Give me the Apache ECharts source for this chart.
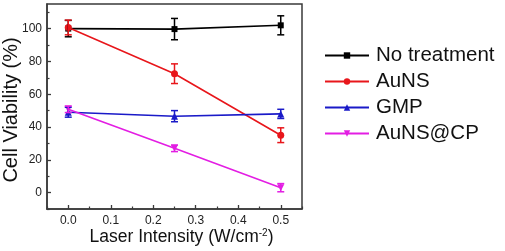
<!DOCTYPE html>
<html><head><meta charset="utf-8">
<script src="https://cdn.jsdelivr.net/npm/echarts@6/dist/echarts.min.js"></script>
<style>html,body{margin:0;padding:0;background:#fff}#c{width:505px;height:251px}</style>
</head><body><div id="c"></div>
<script>
const xValues = [0, 0.25, 0.5];
const seriesNames = ['No treatment', 'AuNS', 'GMP', 'AuNS@CP'];
const noTreatment = [100, 99.7, 102];
const noTreatmentErr = [5, 6.5, 5.8];
const auns = [100.7, 72.5, 35];
const aunsErr = [4.5, 6, 4.5];
const gmp = [49, 46.6, 48];
const gmpErr = [3, 3.4, 2.8];
const aunsCp = [50.8, 27, 3];
const aunsCpErr = [2, 2, 2.5];
const xTickLabels = [0, 0.1, 0.2, 0.3, 0.4, 0.5];
const xMinorTicks = [-0.05, 0.05, 0.15, 0.25, 0.35, 0.45, 0.55];
const yTickLabels = [0, 20, 40, 60, 80, 100];
const yMinorTicks = [-10, 10, 30, 50, 70, 90, 110];

const colors = ['#000000', '#e8161b', '#1a1ac8', '#e31ee3'];
const symbols = ['rect', 'circle', 'triangle', 'triangle'];
const symbolSizes = [6, 7, 7, 7];
const rotates = [0, 0, 0, 180];
const values = [noTreatment, auns, gmp, aunsCp];
const errs = [noTreatmentErr, aunsErr, gmpErr, aunsCpErr];

const chart = echarts.init(document.getElementById('c'), null, {renderer: 'canvas'});
const series = [];
seriesNames.forEach((name, i) => {
  series.push({
    name: name, type: 'line', xAxisIndex: 0, yAxisIndex: 0,
    data: xValues.map((x, k) => [x, values[i][k]]),
    symbol: symbols[i], symbolSize: symbolSizes[i], symbolRotate: rotates[i],
    itemStyle: {color: colors[i]},
    lineStyle: {color: colors[i], width: 1.6},
    z: 3
  });
  series.push({
    name: name + ' error', type: 'custom', xAxisIndex: 0, yAxisIndex: 0,
    data: xValues.map((x, k) => [x, values[i][k], errs[i][k]]),
    encode: {x: 0, y: 1},
    z: 4,
    renderItem: function (params, api) {
      const x = api.value(0), y = api.value(1), e = api.value(2);
      const t = api.coord([x, y + e]), b = api.coord([x, y - e]);
      const w = 3.5;
      const st = {stroke: colors[i], lineWidth: 1.5};
      return {type: 'group', children: [
        {type: 'line', shape: {x1: t[0], y1: t[1], x2: b[0], y2: b[1]}, style: st},
        {type: 'line', shape: {x1: t[0] - w, y1: t[1], x2: t[0] + w, y2: t[1]}, style: st},
        {type: 'line', shape: {x1: b[0] - w, y1: b[1], x2: b[0] + w, y2: b[1]}, style: st}
      ]};
    }
  });
});

const axisCol = '#3a3a3a';
chart.setOption({
  animation: false,
  backgroundColor: '#fff',
  textStyle: {fontFamily: 'Liberation Sans, Arial, sans-serif'},
  grid: {left: 47, right: 203, top: 4, bottom: 42, show: true, borderColor: axisCol, borderWidth: 1.5,
    containLabel: false, outerBoundsMode: 'none'},
  legend: {
    orient: 'vertical', left: 324, top: 45, padding: 0,
    data: seriesNames,
    itemWidth: 44, itemHeight: 8, itemGap: 5,
    textStyle: {fontSize: 20.5, color: '#111', lineHeight: 20, padding: [0, 0, 0, 2], fontFamily: 'Liberation Sans, Arial, sans-serif'}
  },
  xAxis: [{
    type: 'value', min: -0.05, max: 0.55,
    axisLine: {show: true, onZero: false, lineStyle: {color: axisCol, width: 1.5}},
    splitLine: {show: false},
    axisTick: {show: true, inside: true, length: 4, lineStyle: {color: axisCol, width: 1.3}, customValues: xTickLabels},
    axisLabel: {fontSize: 12, color: '#222', margin: 6, customValues: xTickLabels, formatter: v => Number(v).toFixed(1)},
    name: 'Laser Intensity (W/cm{sup|-2})', nameLocation: 'middle', nameGap: 19, nameMoveOverlap: false,
    nameTextStyle: {fontSize: 17.5, color: '#111', verticalAlign: 'top', padding: [0, 0, 0, 14],
      rich: {sup: {fontSize: 10, verticalAlign: 'top', padding: [0, 0, 8, 0]}}}
  }, {
    type: 'value', min: -0.05, max: 0.55, position: 'bottom',
    axisLine: {show: false, onZero: false}, splitLine: {show: false}, axisLabel: {show: false},
    axisTick: {show: true, inside: true, length: 2.5, lineStyle: {color: axisCol, width: 1.2}, customValues: xMinorTicks}
  }],
  yAxis: [{
    type: 'value', min: -10, max: 115,
    axisLine: {show: true, onZero: false, lineStyle: {color: axisCol, width: 1.5}},
    splitLine: {show: false},
    axisTick: {show: true, inside: true, length: 4, lineStyle: {color: axisCol, width: 1.3}, customValues: yTickLabels},
    axisLabel: {fontSize: 12, color: '#222', margin: 5, customValues: yTickLabels},
    name: 'Cell Viability (%)', nameLocation: 'middle', nameGap: 26, nameMoveOverlap: false,
    nameTextStyle: {fontSize: 20, color: '#111', padding: [0, 7, 0, 0]}
  }, {
    type: 'value', min: -10, max: 115, position: 'left',
    axisLine: {show: false, onZero: false}, splitLine: {show: false}, axisLabel: {show: false},
    axisTick: {show: true, inside: true, length: 2.5, lineStyle: {color: axisCol, width: 1.2}, customValues: yMinorTicks}
  }],
  series: series
});
</script>
</body></html>
